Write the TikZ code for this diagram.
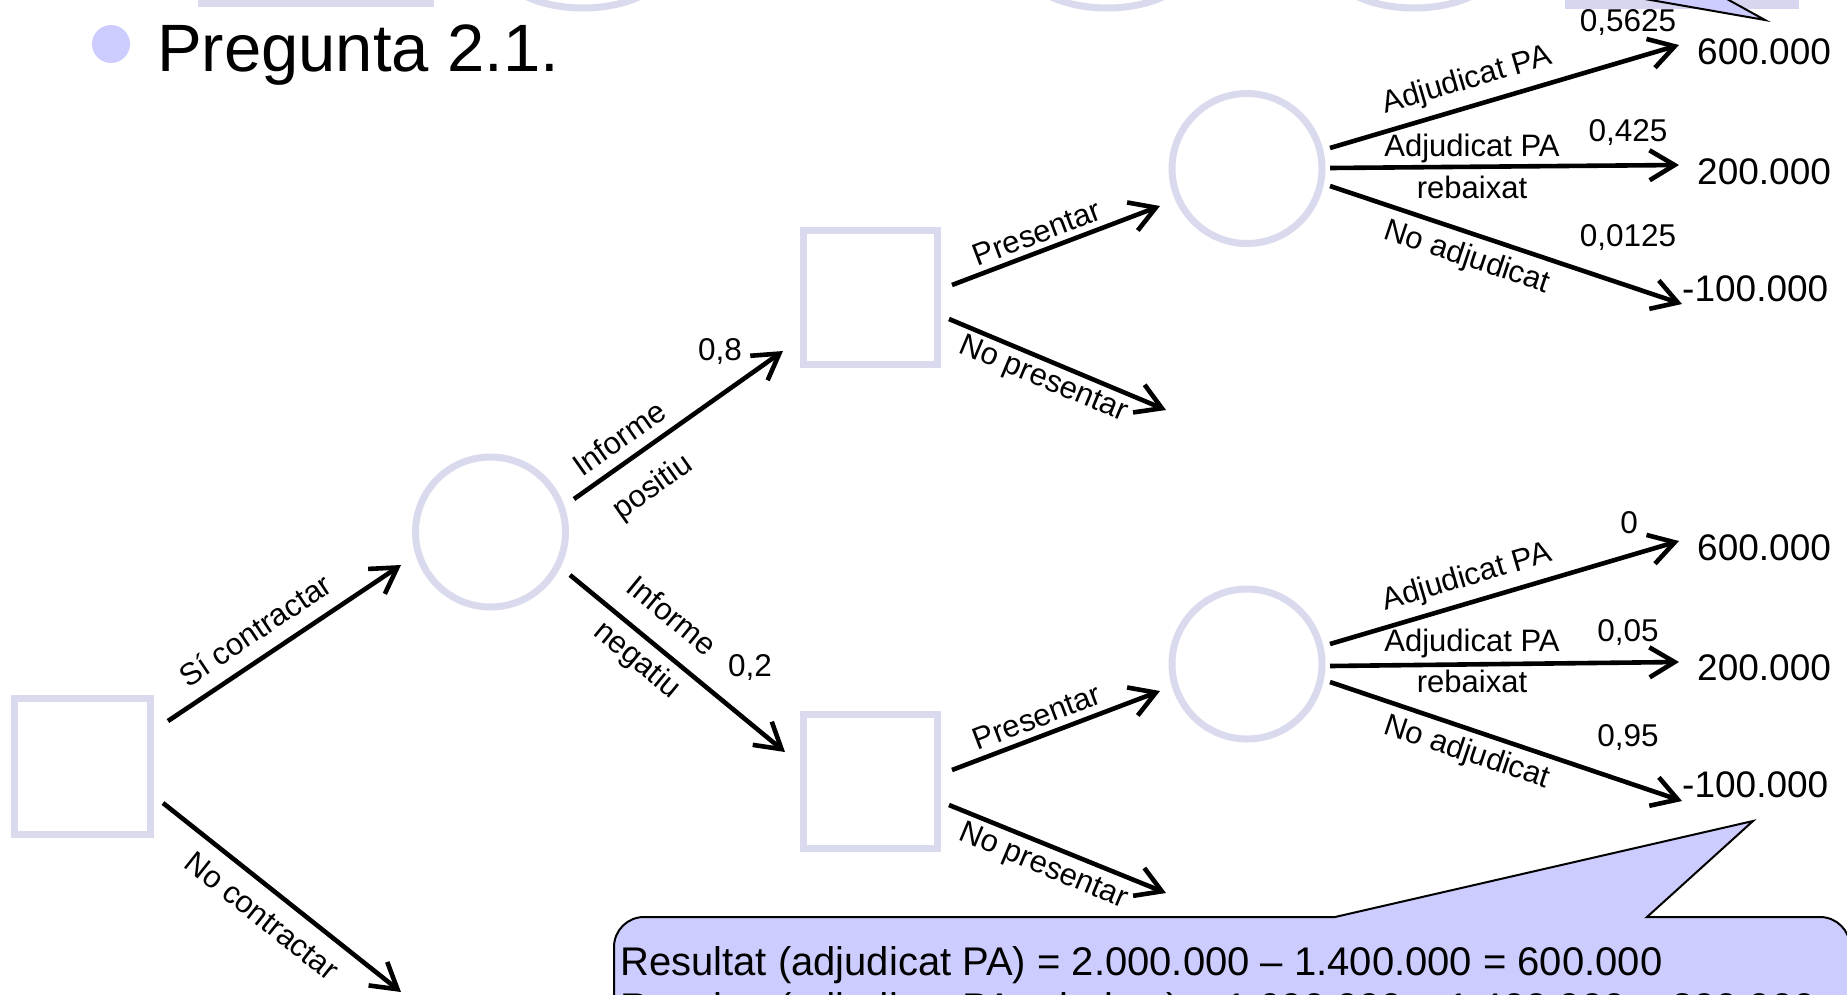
\documentclass[tikz,border=0pt]{standalone}
\usepackage{fontspec}
\setmainfont{Liberation Sans}
\usetikzlibrary{arrows.meta,calc}
\definecolor{lav}{RGB}{218,218,238}
\definecolor{lavb}{RGB}{214,214,240}
\definecolor{call}{RGB}{204,204,255}
\begin{document}
\begin{tikzpicture}[x=1pt,y=-1pt,
  decbox/.style={draw=lav,line width=7pt,minimum size=136pt,inner sep=0pt},
  chance/.style={draw=lav,line width=7pt,circle,minimum size=150pt,inner sep=0pt},
  br/.style={line width=4.6pt,-{Straight Barb[length=25pt,width=30pt]}},
  lbl/.style={font=\fontsize{31}{36}\selectfont,inner sep=0pt},
  prob/.style={font=\fontsize{31.5}{36}\selectfont,inner sep=0pt},
  val/.style={font=\fontsize{37}{44}\selectfont,inner sep=0pt,anchor=west},
]
\useasboundingbox (0,0) rectangle (1847,994);

% partial shapes at the top edge
\draw[lav,line width=7pt] (201.5,-20) rectangle (430.5,3.5);
\draw[lav,line width=7pt] (583,-37) ellipse [x radius=85pt, y radius=45pt];
\draw[lav,line width=7pt] (1107,-37) ellipse [x radius=85pt, y radius=45pt];
\draw[lav,line width=7pt] (1414,-37) ellipse [x radius=85pt, y radius=45pt];
\fill[lavb] (1565,-10) rectangle (1799,9);
\filldraw[fill=call,draw=black,line width=2pt,line join=miter] (1582,-12) -- (1765,20) -- (1707,-12);

% title
\fill[call] (111,44) circle[radius=19pt];
\node[anchor=base west,inner sep=0pt,font=\fontsize{67}{80}\selectfont] (title) at (157,71) {Pregunta 2.1.};

% tree nodes
\node[decbox] (d1) at (82.5,766) {};
\node[chance] (c1) at (490.5,532) {};
\node[decbox,minimum size=134pt] (d2) at (870,297.5) {};
\node[decbox,minimum size=134pt] (d3) at (870,781.5) {};
\node[chance] (c2) at (1247,168.5) {};
\node[chance] (c3) at (1247,664) {};

% values
\node[val] (v1) at (1697,52) {600.000};
\node[val] (v2) at (1697,172) {200.000};
\node[val] (v3) at (1682,289) {-100.000};
\node[val] (v4) at (1697,548) {600.000};
\node[val] (v5) at (1697,668) {200.000};
\node[val] (v6) at (1682,785) {-100.000};

\coordinate (nc) at (401,992);
\coordinate (np1) at (1166,410);
\coordinate (np2) at (1166,893);

% connectors
\draw[br] ($(d1)+(85.5,-45)$) -- ($(c1)+(-89.5,33)$);
\draw[br] ($(d1)+(80.5,37)$) -- (nc);
\draw[br] ($(c1)+(83.5,-33)$) -- ($(d2)+(-87,53.5)$);
\draw[br] ($(c1)+(79.5,43)$) -- ($(d3)+(-85,-29.5)$);
\draw[br] ($(d2)+(82,-12.5)$) -- ($(c2)+(-87,37.5)$);
\draw[br] ($(d2)+(79,21.5)$) -- (np1);
\draw[br] ($(d3)+(82,-11.5)$) -- ($(c3)+(-87,27)$);
\draw[br] ($(d3)+(79,23.5)$) -- (np2);
\draw[br] ($(c2)+(83,-20.5)$) -- ($(v1.west)+(-18,-7)$);
\draw[br] ($(c2)+(83,-0.5)$) -- ($(v2.west)+(-18,-7)$);
\draw[br] ($(c2)+(83,17.5)$) -- ($(v3.west)+(0,15)$);
\draw[br] ($(c3)+(83,-20)$) -- ($(v4.west)+(-18,-7)$);
\draw[br] ($(c3)+(83,2)$) -- ($(v5.west)+(-18,-6)$);
\draw[br] ($(c3)+(83,18)$) -- ($(v6.west)+(0,16)$);

% branch labels
\node[lbl,rotate=33.8] (l1) at (255,630) {Sí contractar};
\node[lbl,rotate=-38.5] (l2) at (262,916) {No contractar};
\node[lbl,rotate=35.3] (l3) at (619,438) {Informe};
\node[lbl,rotate=35.3] (l4) at (653,488) {positiu};
\node[lbl,rotate=-39.5] (l5) at (672,615) {Informe};
\node[lbl,rotate=-39.5] (l6) at (637,661) {negatiu};
\node[prob] (p1) at (720,352) {0,8};
\node[prob] (p2) at (750,668) {0,2};
\node[lbl,rotate=20.8] (l7) at (1037,233) {Presentar};
\node[lbl,rotate=-22.75] (l8) at (1043,380) {No presentar};
\node[lbl,rotate=20.8] (l9) at (1037,717) {Presentar};
\node[lbl,rotate=-22.75] (l10) at (1043,867) {No presentar};

\node[lbl,rotate=16.4] (a1) at (1467,81) {Adjudicat PA};
\node[lbl] (a2) at (1472,148) {Adjudicat PA};
\node[lbl] (a3) at (1472,187) {rebaixat};
\node[lbl,rotate=-18.5] (a4) at (1467,258) {No adjudicat};
\node[prob] (p3) at (1628,23) {0,5625};
\node[prob] (p4) at (1628,133) {0,425};
\node[prob] (p5) at (1628,238) {0,0125};

\node[lbl,rotate=16.4] (b1) at (1467,578) {Adjudicat PA};
\node[lbl] (b2) at (1472,643) {Adjudicat PA};
\node[lbl] (b3) at (1472,681) {rebaixat};
\node[lbl,rotate=-18.5] (b4) at (1467,753) {No adjudicat};
\node[prob] (p6) at (1629,523) {0};
\node[prob] (p7) at (1628,633) {0,05};
\node[prob] (p8) at (1628,738) {0,95};

% callout
\filldraw[fill=call,draw=black,line width=2pt,line join=miter]
  (614,1010) -- (614,947) arc[start angle=180,end angle=90,radius=30pt]
  -- (1335,917) -- (1753,821) -- (1647,917) -- (1820,917)
  arc[start angle=90,end angle=0,radius=30pt] -- (1850,1010) -- cycle;
\node[anchor=base west,inner sep=0pt,font=\fontsize{40}{48}\selectfont] (res1) at (620,975)
  {Resultat (adjudicat PA) = 2.000.000 – 1.400.000 = 600.000};
\node[anchor=base west,inner sep=0pt,font=\fontsize{40}{48}\selectfont] (res2) at (620,1021)
  {Resultat (adjudicat PA rebaixat) = 1.600.000 – 1.400.000 = 200.000};
\end{tikzpicture}
\end{document}
